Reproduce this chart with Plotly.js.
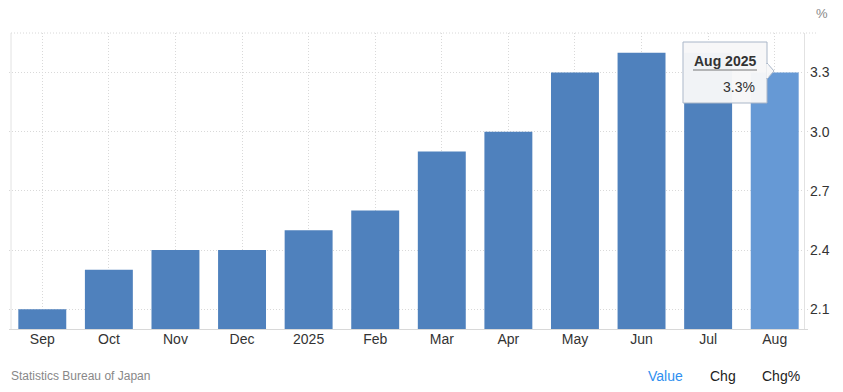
<!DOCTYPE html>
<html>
<head>
<meta charset="utf-8">
<script src="https://cdn.plot.ly/plotly-3.0.1.min.js"></script>
<style>
html,body{margin:0;padding:0;background:#fff;}
#chart{width:843px;height:392px;}
</style>
</head>
<body>
<div id="chart"></div>
<script>
const categories = ["Sep","Oct","Nov","Dec","2025","Feb","Mar","Apr","May","Jun","Jul","Aug"];
const values = [2.1, 2.3, 2.4, 2.4, 2.5, 2.6, 2.9, 3.0, 3.3, 3.4, 3.4, 3.3];
const yTicks = [2.1, 2.4, 2.7, 3.0, 3.3];
const tooltipTitle = "Aug 2025";
const tooltipValue = "3.3%";
const sourceText = "Statistics Bureau of Japan";
const unitText = "%";

const W = 843, H = 392, ML = 9, MR = 35, MT = 33, MB = 63;
const PW = W - ML - MR, PH = H - MT - MB;
const px = x => (x - ML) / PW;
const py = y => (H - MB - y) / PH;

const baseColor = "#4f81bd";
const hoverColor = "#6699d5";
const colors = values.map((v, i) => i === values.length - 1 ? hoverColor : baseColor);

const trace = {
  type: "bar",
  x: categories,
  y: values,
  marker: {color: colors, line: {width: 0}},
  hoverinfo: "skip"
};

const font = "Liberation Sans, Arial, sans-serif";
const dotted = "1px,2px";

const shapes = [
  {type:"line", xref:"paper", yref:"paper", x0:px(11), x1:px(817), y0:1, y1:1, line:{color:"#d8d8d8", width:1, dash:dotted}},
  {type:"line", xref:"paper", yref:"paper", x0:px(11), x1:px(11), y0:0, y1:1, line:{color:"#e2e2e2", width:1}},
  {type:"line", xref:"paper", yref:"paper", x0:px(804.5), x1:px(804.5), y0:0, y1:1, line:{color:"#e2e2e2", width:1}},
  {type:"rect", xref:"paper", yref:"paper", x0:px(683), x1:px(767), y0:py(103), y1:py(42),
   fillcolor:"rgba(247,247,248,0.97)", line:{color:"#a9b6c8", width:1}},
  {type:"path", xref:"paper", yref:"paper",
   path:`M ${px(767)} ${py(63)} L ${px(774)} ${py(71)} L ${px(767)} ${py(79)} Z`,
   fillcolor:"rgba(247,247,248,0.97)", line:{color:"#a9b6c8", width:1}},
  {type:"line", xref:"paper", yref:"paper", x0:px(767.2), x1:px(767.2), y0:py(64), y1:py(78), line:{color:"rgba(247,247,248,1)", width:2}},
  {type:"line", xref:"paper", yref:"paper", x0:px(693), x1:px(757), y0:py(70), y1:py(70), line:{color:"#777", width:1}}
];

const annotations = [
  {xref:"paper", yref:"paper", x:px(725), y:py(61), text:"<b>"+tooltipTitle+"</b>", showarrow:false, xanchor:"center", yanchor:"middle", font:{family:font, size:14, color:"#333"}},
  {xref:"paper", yref:"paper", x:px(757), y:py(87), text:tooltipValue, showarrow:false, xanchor:"right", yanchor:"middle", font:{family:font, size:14, color:"#333"}},
  {xref:"paper", yref:"paper", x:px(814), y:py(14), text:unitText, showarrow:false, xanchor:"left", yanchor:"middle", font:{family:font, size:13, color:"#888"}},
  {xref:"paper", yref:"paper", x:px(9), y:py(376), text:sourceText, showarrow:false, xanchor:"left", yanchor:"middle", font:{family:font, size:12, color:"#888"}},
  {xref:"paper", yref:"paper", x:px(646), y:py(376), text:"Value", showarrow:false, xanchor:"left", yanchor:"middle", font:{family:font, size:14, color:"#2f8ff0"}},
  {xref:"paper", yref:"paper", x:px(708), y:py(376), text:"Chg", showarrow:false, xanchor:"left", yanchor:"middle", font:{family:font, size:14, color:"#222"}},
  {xref:"paper", yref:"paper", x:px(760), y:py(376), text:"Chg%", showarrow:false, xanchor:"left", yanchor:"middle", font:{family:font, size:14, color:"#222"}}
];

const layout = {
  width: W, height: H,
  margin: {l: ML, r: MR, t: MT, b: MB, pad: 0},
  paper_bgcolor: "#fff", plot_bgcolor: "#fff",
  bargap: 0.28,
  showlegend: false,
  font: {family: font, color: "#333"},
  xaxis: {
    type: "category",
    showgrid: true, gridcolor: "#d9d9d9", griddash: dotted, gridwidth: 1,
    showline: true, linecolor: "#d8d8d8", linewidth: 1,
    ticks: "", ticklabelstandoff: -3,
    tickfont: {family: font, size: 14, color: "#333"},
    zeroline: false, fixedrange: true
  },
  yaxis: {
    side: "right",
    range: [2.0, 3.5],
    tickvals: yTicks,
    ticktext: yTicks.map(v => v.toFixed(1)),
    showgrid: true, gridcolor: "#d9d9d9", griddash: dotted, gridwidth: 1,
    showline: false, zeroline: false,
    ticks: "", ticklabelstandoff: 1,
    tickfont: {family: font, size: 14, color: "#333"},
    fixedrange: true
  },
  shapes: shapes,
  annotations: annotations
};

Plotly.newPlot("chart", [trace], layout, {displayModeBar: false, staticPlot: true});
</script>
</body>
</html>
